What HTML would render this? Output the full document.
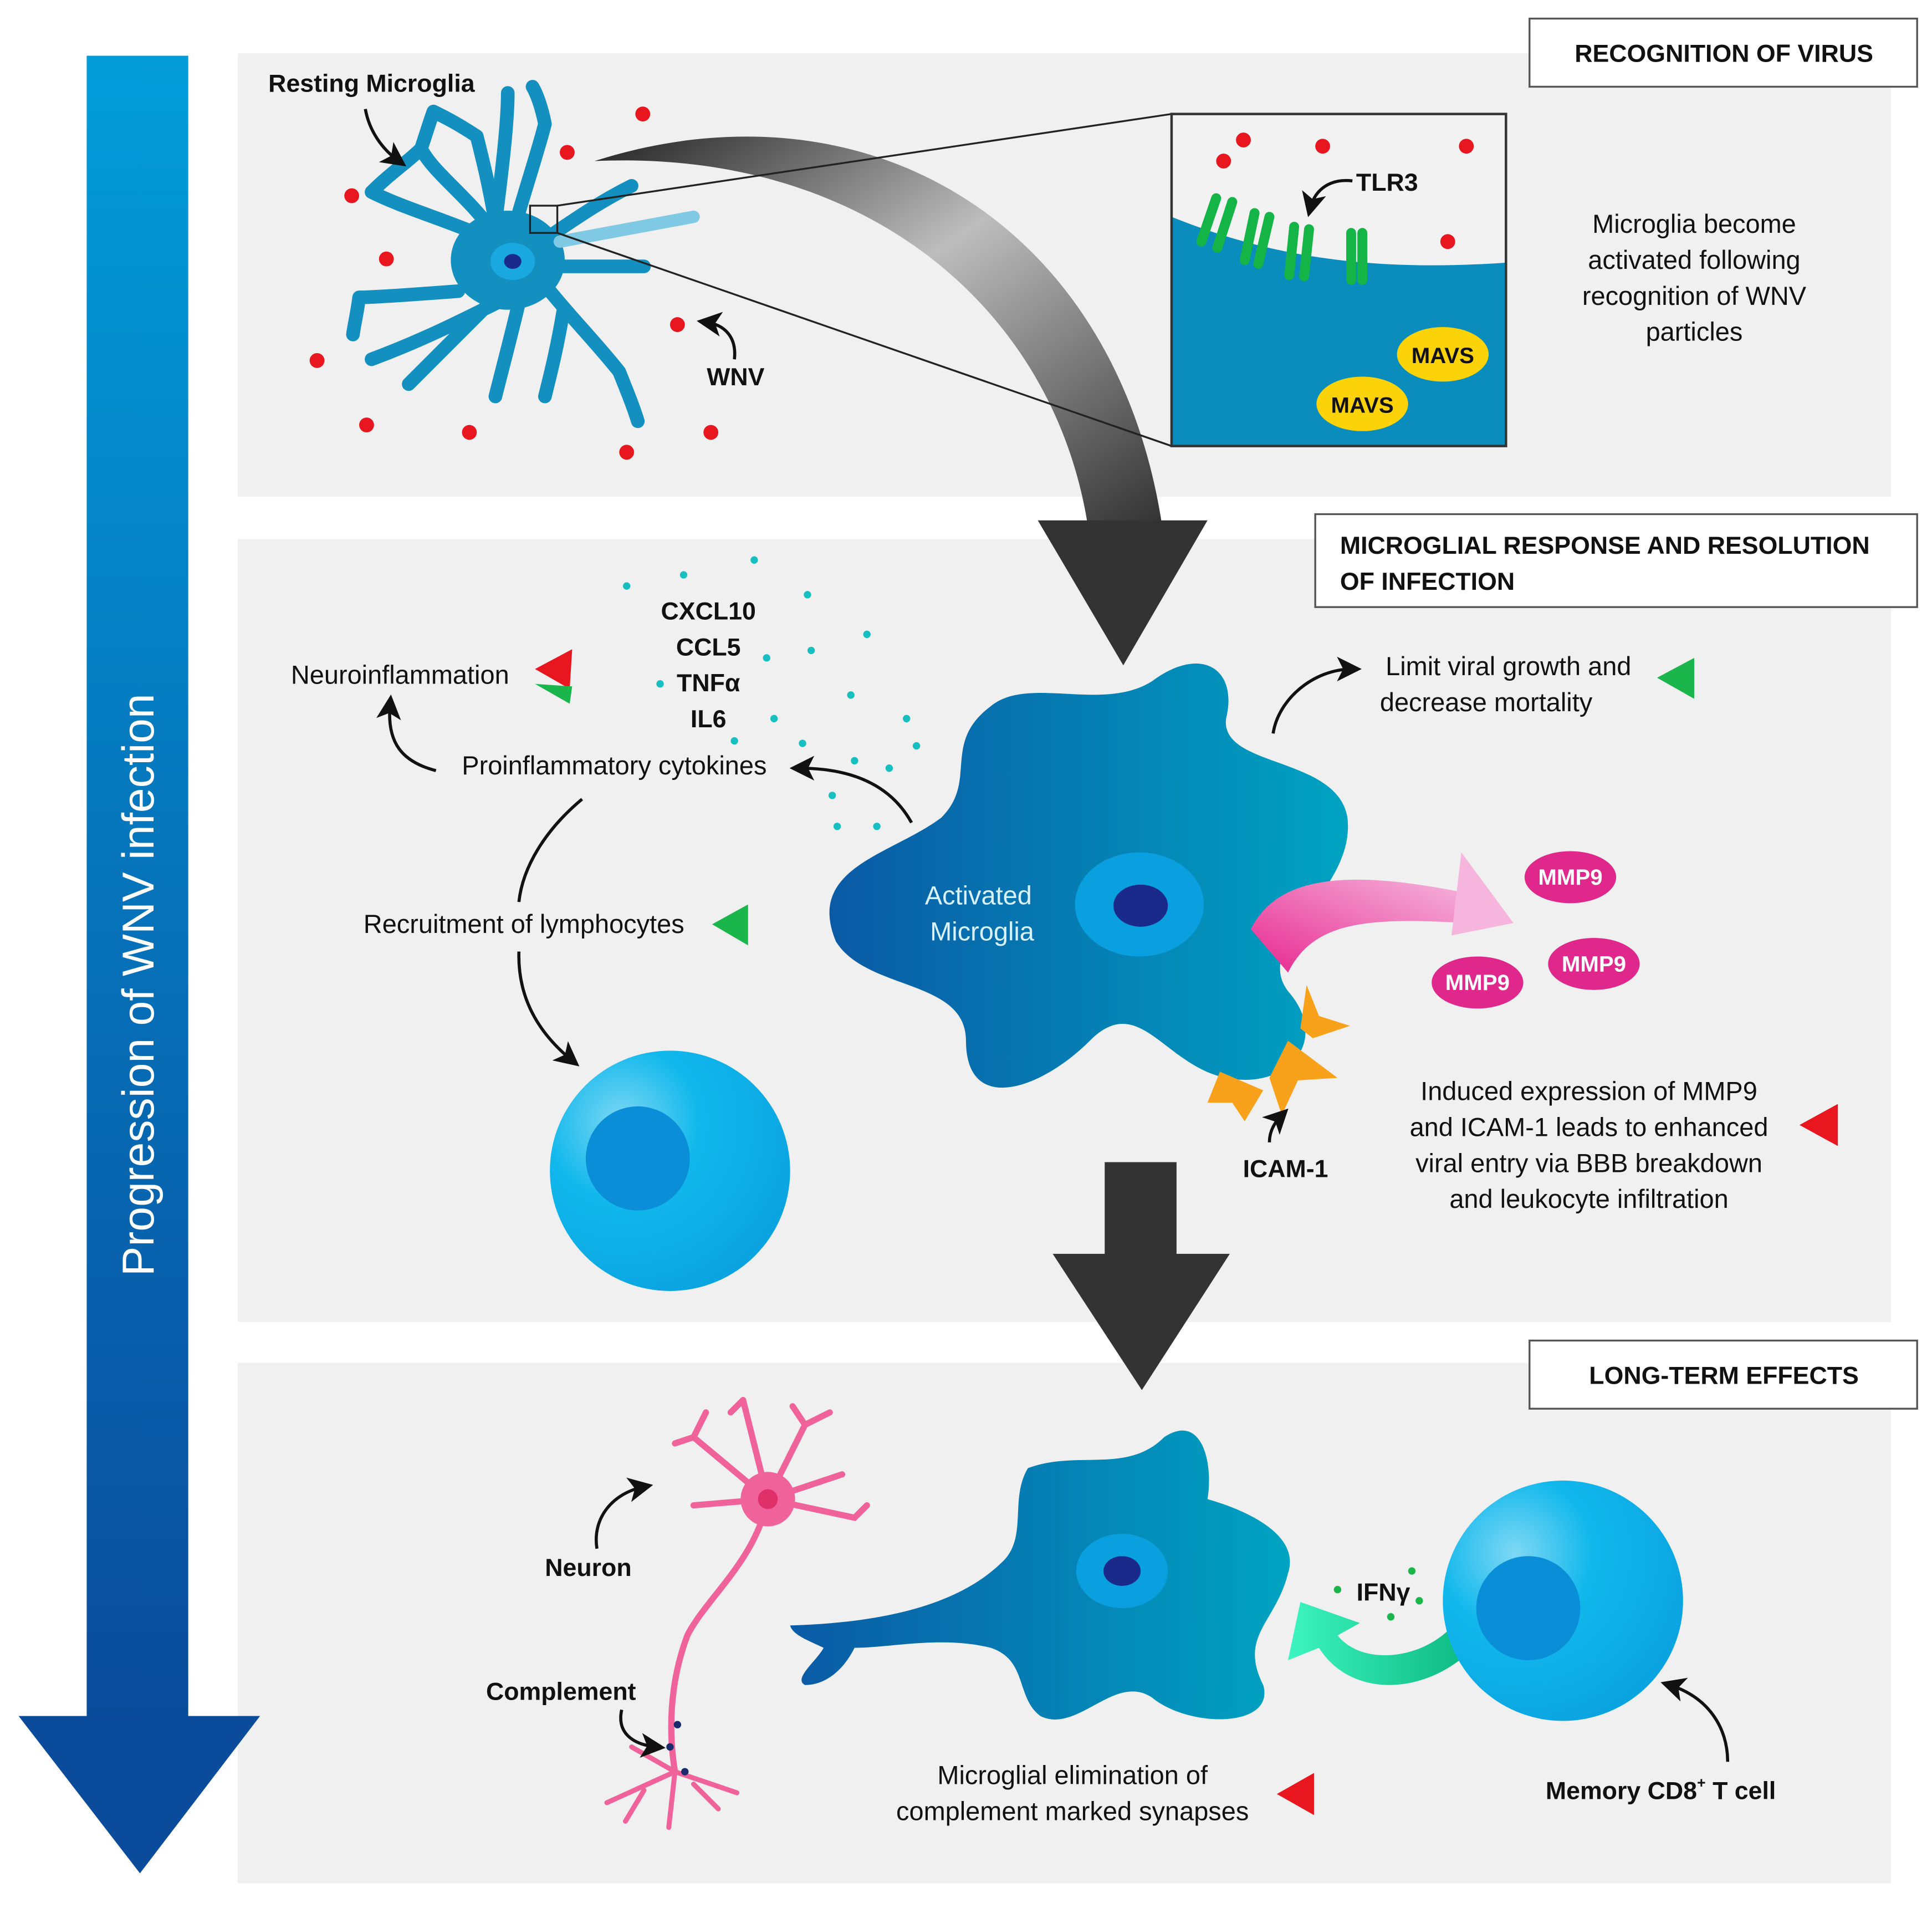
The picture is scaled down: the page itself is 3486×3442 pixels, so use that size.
<!DOCTYPE html>
<html><head><meta charset="utf-8"><style>
html,body{margin:0;padding:0;background:#fff;}
svg{display:block;}
text{font-family:"Liberation Sans",sans-serif;fill:#111;}
</style></head><body>
<svg width="3486" height="3442" viewBox="0 0 1560 1540" preserveAspectRatio="none" xmlns="http://www.w3.org/2000/svg">
<defs>
<linearGradient id="prog" x1="0" y1="0" x2="0" y2="1"><stop offset="0" stop-color="#029cd9"/><stop offset="1" stop-color="#0a4b9c"/></linearGradient>
<linearGradient id="mic" x1="0" y1="0" x2="1" y2="0"><stop offset="0" stop-color="#0a5aa5"/><stop offset="1" stop-color="#00a3c2"/></linearGradient>
<radialGradient id="lym" cx="0.3" cy="0.3" r="0.8"><stop offset="0" stop-color="#7fd8f5"/><stop offset="0.4" stop-color="#11b8ec"/><stop offset="1" stop-color="#0aa2e0"/></radialGradient>
<linearGradient id="gray" x1="0" y1="0" x2="1" y2="1"><stop offset="0" stop-color="#222"/><stop offset="0.45" stop-color="#bdbdbd"/><stop offset="1" stop-color="#333"/></linearGradient>
<linearGradient id="pink" x1="0" y1="1" x2="1" y2="0"><stop offset="0" stop-color="#e8288f"/><stop offset="1" stop-color="#f5b5dc"/></linearGradient>
<linearGradient id="grn" x1="1" y1="0" x2="0" y2="0"><stop offset="0" stop-color="#0bb77e"/><stop offset="1" stop-color="#3df5c0"/></linearGradient>
<marker id="ah" markerWidth="8" markerHeight="8" refX="5" refY="4" orient="auto"><path d="M0,0 L8,4 L0,8 L2,4Z" fill="#111"/></marker>
</defs>

<rect x="192" y="43" width="1335" height="358" fill="#f0f0f0"/>
<rect x="192" y="435" width="1335" height="632" fill="#f0f0f0"/>
<rect x="192" y="1100" width="1335" height="420" fill="#f0f0f0"/>

<rect x="70" y="45" width="82" height="1345" fill="url(#prog)"/>
<polygon points="15,1385 210,1385 113,1512" fill="#0a4b9c"/>
<text transform="translate(124,1030) rotate(-90)" font-size="36" style="fill:#fff">Progression of WNV infection</text>

<rect x="1235" y="15" width="313" height="55" fill="#fff" stroke="#555" stroke-width="1.5"/>
<text x="1392" y="50" font-size="20" font-weight="bold" text-anchor="middle">RECOGNITION OF VIRUS</text>
<rect x="1062" y="415" width="486" height="75" fill="#fff" stroke="#555" stroke-width="1.5"/>
<text x="1082" y="447" font-size="20" font-weight="bold">MICROGLIAL RESPONSE AND RESOLUTION</text>
<text x="1082" y="476" font-size="20" font-weight="bold">OF INFECTION</text>
<rect x="1235" y="1082" width="313" height="55" fill="#fff" stroke="#555" stroke-width="1.5"/>
<text x="1392" y="1117" font-size="20" font-weight="bold" text-anchor="middle">LONG-TERM EFFECTS</text>

<path d="M480,130 C700,60 900,180 938,422 L878,422 C850,250 700,120 480,130Z" fill="url(#gray)"/>
<polygon points="838,420 975,420 907,537" fill="#333"/>

<g stroke="#1490c0" stroke-linecap="round" stroke-linejoin="round" fill="none">
<path d="M410,200 C370,180 330,170 300,155 M300,155 C315,140 330,130 340,120 M400,190 C380,160 350,140 340,120 C345,105 348,95 350,90 M400,180 C395,150 390,130 385,110 C370,100 360,95 350,90 M400,180 C405,140 410,100 410,75 M415,185 C425,150 435,120 440,100 C437,85 433,75 430,70 M430,200 C460,180 480,165 510,150 M440,215 C480,215 500,215 520,215 M440,230 C460,255 480,275 500,300 C508,320 512,330 515,340 M455,250 C450,280 445,300 440,320 M420,240 C413,270 405,300 400,320 M400,245 C370,260 340,275 300,290 M370,235 C330,238 300,240 290,240 C288,255 286,262 285,270 M395,245 C370,270 350,290 330,310" stroke-width="11"/>
</g>
<ellipse cx="410" cy="210" rx="46" ry="40" fill="#1490c0"/>
<path d="M452,195 L560,175" stroke="#7fc9e4" stroke-width="10" stroke-linecap="round"/>
<ellipse cx="414" cy="211" rx="18" ry="15" fill="#1aa8e0"/>
<ellipse cx="414" cy="211" rx="7" ry="6" fill="#1a2a8a"/>
<rect x="428" y="166" width="22" height="22" fill="none" stroke="#222" stroke-width="1.5"/>
<line x1="450" y1="166" x2="946" y2="92" stroke="#222" stroke-width="1.5"/>
<line x1="450" y1="188" x2="946" y2="360" stroke="#222" stroke-width="1.5"/>
<g fill="#e8161e">
<circle cx="519" cy="92" r="6"/><circle cx="458" cy="123" r="6"/><circle cx="284" cy="158" r="6"/><circle cx="312" cy="209" r="6"/><circle cx="256" cy="291" r="6"/><circle cx="296" cy="343" r="6"/><circle cx="379" cy="349" r="6"/><circle cx="506" cy="365" r="6"/><circle cx="574" cy="349" r="6"/><circle cx="547" cy="262" r="6"/>
</g>
<text x="300" y="74" font-size="20" font-weight="bold" text-anchor="middle">Resting Microglia</text>
<path d="M295,88 C298,105 308,120 322,130" fill="none" stroke="#111" stroke-width="2.5" marker-end="url(#ah)"/>
<text x="594" y="311" font-size="20" font-weight="bold" text-anchor="middle">WNV</text>
<path d="M593,290 C595,272 585,262 570,260" fill="none" stroke="#111" stroke-width="2.5" marker-end="url(#ah)"/>

<rect x="946" y="92" width="270" height="268" fill="#f2f2f2"/>
<path d="M946,175 C1020,205 1100,220 1216,212 L1216,360 L946,360Z" fill="#0a8dbd"/>
<rect x="946" y="92" width="270" height="268" fill="none" stroke="#333" stroke-width="2"/>
<g stroke="#14b446" stroke-width="8" stroke-linecap="round">
<line x1="982" y1="160" x2="970" y2="195"/><line x1="995" y1="163" x2="983" y2="200"/>
<line x1="1013" y1="172" x2="1005" y2="210"/><line x1="1025" y1="175" x2="1016" y2="213"/>
<line x1="1045" y1="183" x2="1041" y2="222"/><line x1="1057" y1="185" x2="1053" y2="223"/>
<line x1="1091" y1="188" x2="1091" y2="226"/><line x1="1100" y1="188" x2="1100" y2="226"/>
</g>
<g fill="#e8161e"><circle cx="1004" cy="113" r="6"/><circle cx="988" cy="130" r="6"/><circle cx="1068" cy="118" r="6"/><circle cx="1184" cy="118" r="6"/><circle cx="1169" cy="195" r="6"/></g>
<text x="1095" y="154" font-size="20" font-weight="bold">TLR3</text>
<path d="M1092,146 C1075,144 1062,152 1058,168" fill="none" stroke="#111" stroke-width="2.5" marker-end="url(#ah)"/>
<ellipse cx="1165" cy="286" rx="37" ry="22" fill="#fcd208"/>
<text x="1165" y="293" font-size="18" font-weight="bold" text-anchor="middle">MAVS</text>
<ellipse cx="1100" cy="326" rx="37" ry="22" fill="#fcd208"/>
<text x="1100" y="333" font-size="18" font-weight="bold" text-anchor="middle">MAVS</text>
<g font-size="21" text-anchor="middle"><text x="1368" y="188">Microglia become</text><text x="1368" y="217">activated following</text><text x="1368" y="246">recognition of WNV</text><text x="1368" y="275">particles</text></g>

<path d="M800,570 C830,545 890,575 930,550 C970,520 1000,540 990,580 C985,620 1080,610 1088,660 C1095,720 1010,760 1040,800 C1075,840 1040,880 990,870 C940,860 920,800 880,840 C840,880 780,900 780,840 C780,790 700,800 675,760 C650,700 720,690 760,660 C790,630 760,600 800,570Z" fill="url(#mic)"/>
<ellipse cx="920" cy="730" rx="52" ry="42" fill="#0aa0e0"/>
<ellipse cx="921" cy="731" rx="22" ry="17" fill="#1a2a8a"/>
<text x="790" y="730" font-size="21" text-anchor="middle" style="fill:#d8f2ff">Activated</text>
<text x="793" y="759" font-size="21" text-anchor="middle" style="fill:#d8f2ff">Microglia</text>
<path d="M1010,750 C1030,710 1080,700 1180,720 L1183,745 C1100,740 1060,745 1040,785Z" fill="url(#pink)"/>
<polygon points="1180,688 1222,745 1172,755" fill="#f5b5dc"/>
<g font-size="18" font-weight="bold" text-anchor="middle">
<ellipse cx="1268" cy="708" rx="37" ry="21" fill="#e0288c"/><text x="1268" y="714" style="fill:#fff">MMP9</text>
<ellipse cx="1193" cy="793" rx="37" ry="21" fill="#e0288c"/><text x="1193" y="799" style="fill:#fff">MMP9</text>
<ellipse cx="1287" cy="778" rx="37" ry="21" fill="#e0288c"/><text x="1287" y="784" style="fill:#fff">MMP9</text>
</g>
<polygon points="1055,795 1065,820 1090,828 1060,838 1050,830" fill="#f7a21a"/>
<polygon points="1040,840 1080,870 1048,872 1035,900 1025,870" fill="#f7a21a"/>
<polygon points="985,865 1020,880 1005,905 995,890 975,890" fill="#f7a21a"/>
<text x="1038" y="950" font-size="20" font-weight="bold" text-anchor="middle">ICAM-1</text>
<path d="M1025,922 C1025,912 1030,905 1035,900" fill="none" stroke="#111" stroke-width="2.5" marker-end="url(#ah)"/>

<g font-size="20" font-weight="bold" text-anchor="middle"><text x="572" y="500">CXCL10</text><text x="572" y="529">CCL5</text><text x="572" y="558">TNFα</text><text x="572" y="587">IL6</text></g>
<g fill="#17bfc0">
<circle cx="506" cy="473" r="3"/><circle cx="552" cy="464" r="3"/><circle cx="609" cy="452" r="3"/><circle cx="652" cy="480" r="3"/><circle cx="700" cy="512" r="3"/><circle cx="619" cy="531" r="3"/><circle cx="655" cy="525" r="3"/><circle cx="533" cy="552" r="3"/><circle cx="687" cy="561" r="3"/><circle cx="625" cy="580" r="3"/><circle cx="732" cy="580" r="3"/><circle cx="740" cy="602" r="3"/><circle cx="648" cy="600" r="3"/><circle cx="593" cy="598" r="3"/><circle cx="690" cy="614" r="3"/><circle cx="718" cy="620" r="3"/><circle cx="672" cy="642" r="3"/><circle cx="676" cy="667" r="3"/><circle cx="708" cy="667" r="3"/>
</g>
<text x="496" y="625" font-size="21" text-anchor="middle">Proinflammatory cytokines</text>
<path d="M736,664 C720,635 690,620 645,620" fill="none" stroke="#111" stroke-width="2.5" marker-end="url(#ah)"/>
<text x="323" y="552" font-size="21" text-anchor="middle">Neuroinflammation</text>
<polygon points="432,540 462,524 460,556" fill="#e8161e"/>
<polygon points="432,552 462,554 460,568" fill="#1ab64c"/>
<path d="M352,622 C325,615 312,600 315,568" fill="none" stroke="#111" stroke-width="2.5" marker-end="url(#ah)"/>
<text x="423" y="753" font-size="21" text-anchor="middle">Recruitment of lymphocytes</text>
<polygon points="575,746 604,730 604,763" fill="#1ab64c"/>
<path d="M470,645 C440,670 422,700 419,728" fill="none" stroke="#111" stroke-width="2.5"/>
<path d="M419,768 C418,800 430,830 462,856" fill="none" stroke="#111" stroke-width="2.5" marker-end="url(#ah)"/>
<circle cx="541" cy="945" r="97" fill="url(#lym)"/>
<circle cx="515" cy="935" r="42" fill="#0a8ed8"/>

<text x="1218" y="545" font-size="21" text-anchor="middle">Limit viral growth and</text>
<text x="1200" y="574" font-size="21" text-anchor="middle">decrease mortality</text>
<polygon points="1338,547 1368,531 1368,564" fill="#1ab64c"/>
<path d="M1028,592 C1032,565 1060,540 1092,540" fill="none" stroke="#111" stroke-width="2.5" marker-end="url(#ah)"/>
<g font-size="21" text-anchor="middle"><text x="1283" y="888">Induced expression of MMP9</text><text x="1283" y="917">and ICAM-1 leads to enhanced</text><text x="1283" y="946">viral entry via BBB breakdown</text><text x="1283" y="975">and leukocyte infiltration</text></g>
<polygon points="1453,908 1484,891 1484,925" fill="#e8161e"/>

<rect x="892" y="938" width="58" height="76" fill="#333"/>
<polygon points="850,1012 993,1012 922,1122" fill="#333"/>

<g stroke="#f0639a" fill="none" stroke-linecap="round" stroke-width="5">
<path d="M620,1210 C610,1260 570,1290 555,1320 C540,1360 540,1400 545,1430"/>
<path d="M620,1210 L560,1160 L545,1165 M620,1210 L600,1130 M620,1210 L560,1215 M620,1210 L650,1150 L670,1140 M620,1210 L690,1225 L700,1215 M620,1210 L680,1190 M600,1130 L590,1140 M560,1160 L570,1140 M650,1150 L640,1135"/>
<path d="M545,1430 L490,1455 M545,1430 L540,1475 M545,1430 L595,1447 M545,1430 L510,1410 M560,1440 L580,1460 M520,1445 L505,1470" stroke-width="4"/>
</g>
<circle cx="620" cy="1210" r="22" fill="#f0639a"/>
<circle cx="620" cy="1210" r="8" fill="#e0306a"/>
<circle cx="547" cy="1392" r="3" fill="#1a2a6a"/><circle cx="541" cy="1410" r="3" fill="#1a2a6a"/><circle cx="553" cy="1430" r="3" fill="#1a2a6a"/>
<text x="475" y="1272" font-size="20" font-weight="bold" text-anchor="middle">Neuron</text>
<path d="M482,1250 C478,1225 495,1205 520,1200" fill="none" stroke="#111" stroke-width="2.5" marker-end="url(#ah)"/>
<text x="453" y="1372" font-size="20" font-weight="bold" text-anchor="middle">Complement</text>
<path d="M502,1380 C498,1398 510,1408 530,1410" fill="none" stroke="#111" stroke-width="2.5" marker-end="url(#ah)"/>

<path d="M830,1185 C870,1170 910,1190 940,1160 C970,1140 980,1180 975,1210 C1010,1220 1050,1240 1040,1270 C1030,1310 1000,1320 1020,1360 C1030,1395 960,1395 930,1370 C900,1350 870,1400 840,1385 C820,1370 830,1340 800,1330 C760,1320 720,1330 690,1330 C680,1350 665,1360 650,1360 C640,1355 660,1340 665,1330 C655,1325 640,1320 638,1312 C700,1310 770,1300 810,1260 C830,1240 815,1210 830,1185Z" fill="url(#mic)"/>
<ellipse cx="906" cy="1268" rx="37" ry="30" fill="#0aa0e0"/>
<ellipse cx="906" cy="1268" rx="15" ry="12" fill="#1a2a8a"/>

<path d="M1190,1330 C1150,1370 1090,1370 1065,1330 L1040,1340 L1050,1293 L1098,1310 L1080,1320 C1100,1345 1150,1340 1175,1310Z" fill="url(#grn)"/>
<circle cx="1262" cy="1292" r="97" fill="url(#lym)"/>
<circle cx="1234" cy="1298" r="42" fill="#0a8ed8"/>
<text x="1117" y="1292" font-size="20" font-weight="bold" text-anchor="middle">IFNγ</text>
<g fill="#1ab64c"><circle cx="1080" cy="1283" r="3"/><circle cx="1140" cy="1268" r="3"/><circle cx="1146" cy="1292" r="3"/><circle cx="1123" cy="1305" r="3"/></g>
<text x="1341" y="1452" font-size="20" font-weight="bold" text-anchor="middle">Memory CD8<tspan font-size="12" dy="-9">+</tspan><tspan dy="9"> T cell</tspan></text>
<path d="M1395,1422 C1395,1395 1380,1370 1348,1360" fill="none" stroke="#111" stroke-width="2.5" marker-end="url(#ah)"/>
<text x="866" y="1440" font-size="21" text-anchor="middle">Microglial elimination of</text>
<text x="866" y="1469" font-size="21" text-anchor="middle">complement marked synapses</text>
<polygon points="1031,1448 1061,1431 1061,1465" fill="#e8161e"/>
</svg>
</body></html>
